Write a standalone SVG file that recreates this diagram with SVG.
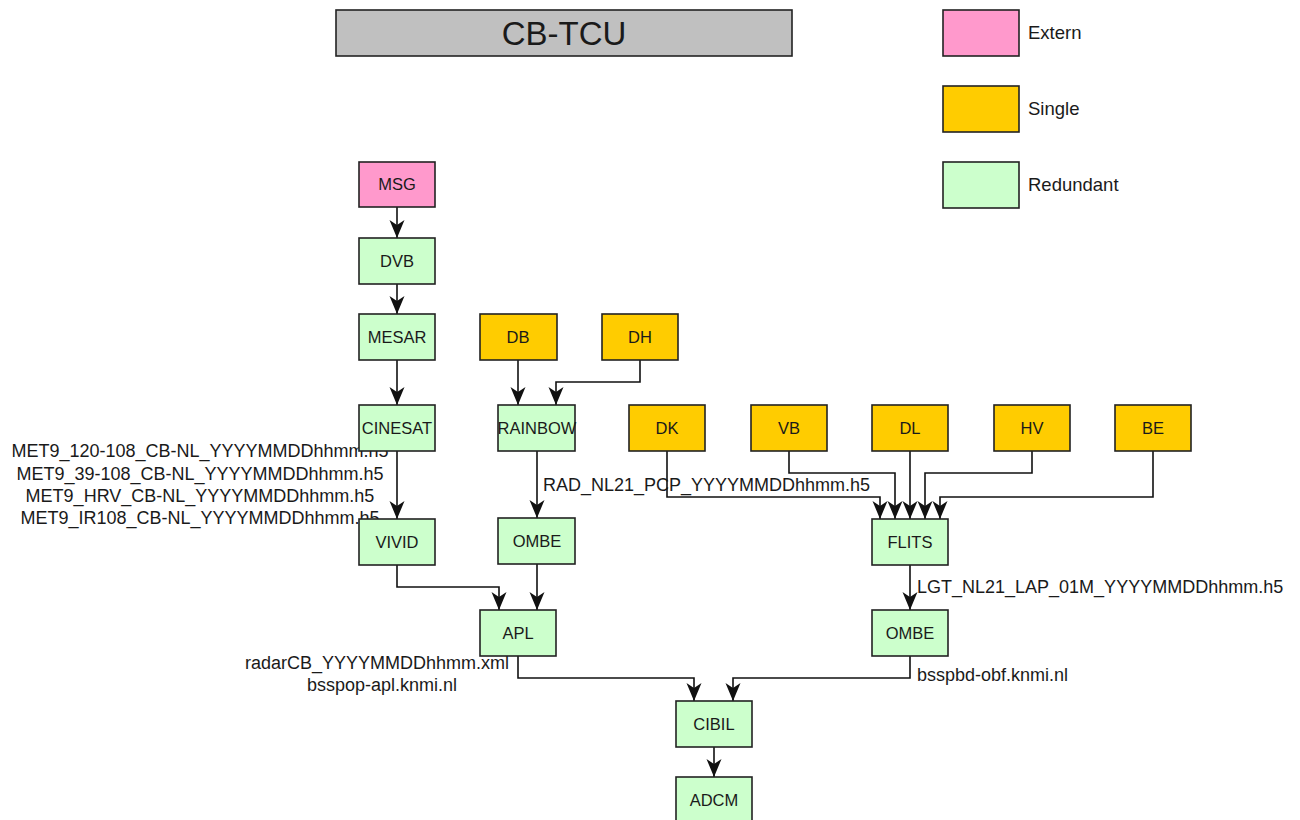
<svg xmlns="http://www.w3.org/2000/svg" width="1300" height="820" viewBox="0 0 1300 820">
<style>
text{font-family:"Liberation Sans",Arial,sans-serif;fill:#1a1a1a}
.n{font-size:16.5px;text-anchor:middle}
.l{font-size:18px}
.c{text-anchor:middle}
.nd{stroke:#222;stroke-width:1.6}
.ext{fill:#ff99cc}
.sgl{fill:#ffcc00}
.red{fill:#ccffcc}
.cn{fill:none;stroke:#111;stroke-width:1.6;marker-end:url(#ah)}
</style>
<defs>
<marker id="ah" markerUnits="userSpaceOnUse" markerWidth="20" markerHeight="18" viewBox="0 -9 20 18" refX="18" refY="0" orient="auto">
<path d="M0,-7.5 L18,0 L0,7.5 L5,0 z" fill="#111"/>
</marker>
</defs>
<rect fill="#fff" x="0" y="0" width="1300" height="820"/>
<g id="title">
<rect class="nd" x="336" y="10" width="456" height="46" fill="#c0c0c0"/>
<text x="564" y="45" style="font-size:33px;text-anchor:middle">CB-TCU</text>
</g>
<g id="legend">
<rect class="nd ext" x="943" y="10" width="76" height="46"/>
<text x="1028" y="39" style="font-size:18.5px">Extern</text>
<rect class="nd sgl" x="943" y="86" width="76" height="46"/>
<text x="1028" y="115" style="font-size:18.5px">Single</text>
<rect class="nd red" x="943" y="162" width="76" height="46"/>
<text x="1028" y="191" style="font-size:18.5px">Redundant</text>
</g>
<g id="connectors">
<path class="cn" d="M397,207 V238"/>
<path class="cn" d="M397,284 V314"/>
<path class="cn" d="M397,360 V405"/>
<path class="cn" d="M397,451 V519"/>
<path class="cn" d="M397,565 V587 H499 V610"/>
<path class="cn" d="M518,360 V405"/>
<path class="cn" d="M640,360 V382 H556 V405"/>
<path class="cn" d="M537,451 V518"/>
<path class="cn" d="M537,564 V610"/>
<path class="cn" d="M667,451 V497 H880 V519"/>
<path class="cn" d="M789,451 V473 H895 V519"/>
<path class="cn" d="M910,451 V519"/>
<path class="cn" d="M1032,451 V473 H925 V519"/>
<path class="cn" d="M1153,451 V497 H940 V519"/>
<path class="cn" d="M910,565 V610"/>
<path class="cn" d="M518,656 V678 H694 V701"/>
<path class="cn" d="M910,656 V678 H733 V701"/>
<path class="cn" d="M714,747 V777"/>
</g>
<g id="labels">
<text class="l c" x="200" y="457">MET9_120-108_CB-NL_YYYYMMDDhhmm.h5</text>
<text class="l c" x="200" y="480">MET9_39-108_CB-NL_YYYYMMDDhhmm.h5</text>
<text class="l c" x="200" y="502">MET9_HRV_CB-NL_YYYYMMDDhhmm.h5</text>
<text class="l c" x="200" y="524">MET9_IR108_CB-NL_YYYYMMDDhhmm.h5</text>
<text class="l" x="543" y="491">RAD_NL21_PCP_YYYYMMDDhhmm.h5</text>
<text class="l" x="917" y="593">LGT_NL21_LAP_01M_YYYYMMDDhhmm.h5</text>
<text class="l c" x="377" y="669">radarCB_YYYYMMDDhhmm.xml</text>
<text class="l c" x="382" y="691">bsspop-apl.knmi.nl</text>
<text class="l" x="917" y="681">bsspbd-obf.knmi.nl</text>
</g>
<g id="MSG"><rect class="nd ext" x="359" y="162" width="76" height="45"/><text class="n" x="397" y="190">MSG</text></g>
<g id="DVB"><rect class="nd red" x="359" y="238" width="76" height="46"/><text class="n" x="397" y="267">DVB</text></g>
<g id="MESAR"><rect class="nd red" x="359" y="314" width="76" height="46"/><text class="n" x="397" y="343">MESAR</text></g>
<g id="CINESAT"><rect class="nd red" x="359" y="405" width="76" height="46"/><text class="n" x="397" y="434">CINESAT</text></g>
<g id="VIVID"><rect class="nd red" x="359" y="519" width="76" height="46"/><text class="n" x="397" y="548">VIVID</text></g>
<g id="DB"><rect class="nd sgl" x="480" y="314" width="77" height="46"/><text class="n" x="518" y="343">DB</text></g>
<g id="DH"><rect class="nd sgl" x="602" y="314" width="76" height="46"/><text class="n" x="640" y="343">DH</text></g>
<g id="RAINBOW"><rect class="nd red" x="498" y="405" width="77" height="46"/><text class="n" x="537" y="434">RAINBOW</text></g>
<g id="OMBE1"><rect class="nd red" x="498" y="518" width="77" height="46"/><text class="n" x="537" y="547">OMBE</text></g>
<g id="APL"><rect class="nd red" x="480" y="610" width="76" height="46"/><text class="n" x="518" y="639">APL</text></g>
<g id="DK"><rect class="nd sgl" x="629" y="405" width="76" height="46"/><text class="n" x="667" y="434">DK</text></g>
<g id="VB"><rect class="nd sgl" x="751" y="405" width="76" height="46"/><text class="n" x="789" y="434">VB</text></g>
<g id="DL"><rect class="nd sgl" x="872" y="405" width="76" height="46"/><text class="n" x="910" y="434">DL</text></g>
<g id="HV"><rect class="nd sgl" x="994" y="405" width="76" height="46"/><text class="n" x="1032" y="434">HV</text></g>
<g id="BE"><rect class="nd sgl" x="1115" y="405" width="76" height="46"/><text class="n" x="1153" y="434">BE</text></g>
<g id="FLITS"><rect class="nd red" x="872" y="519" width="76" height="46"/><text class="n" x="910" y="548">FLITS</text></g>
<g id="OMBE2"><rect class="nd red" x="872" y="610" width="76" height="46"/><text class="n" x="910" y="639">OMBE</text></g>
<g id="CIBIL"><rect class="nd red" x="676" y="701" width="76" height="46"/><text class="n" x="714" y="730">CIBIL</text></g>
<g id="ADCM"><rect class="nd red" x="676" y="777" width="76" height="46"/><text class="n" x="714" y="806">ADCM</text></g>
</svg>
